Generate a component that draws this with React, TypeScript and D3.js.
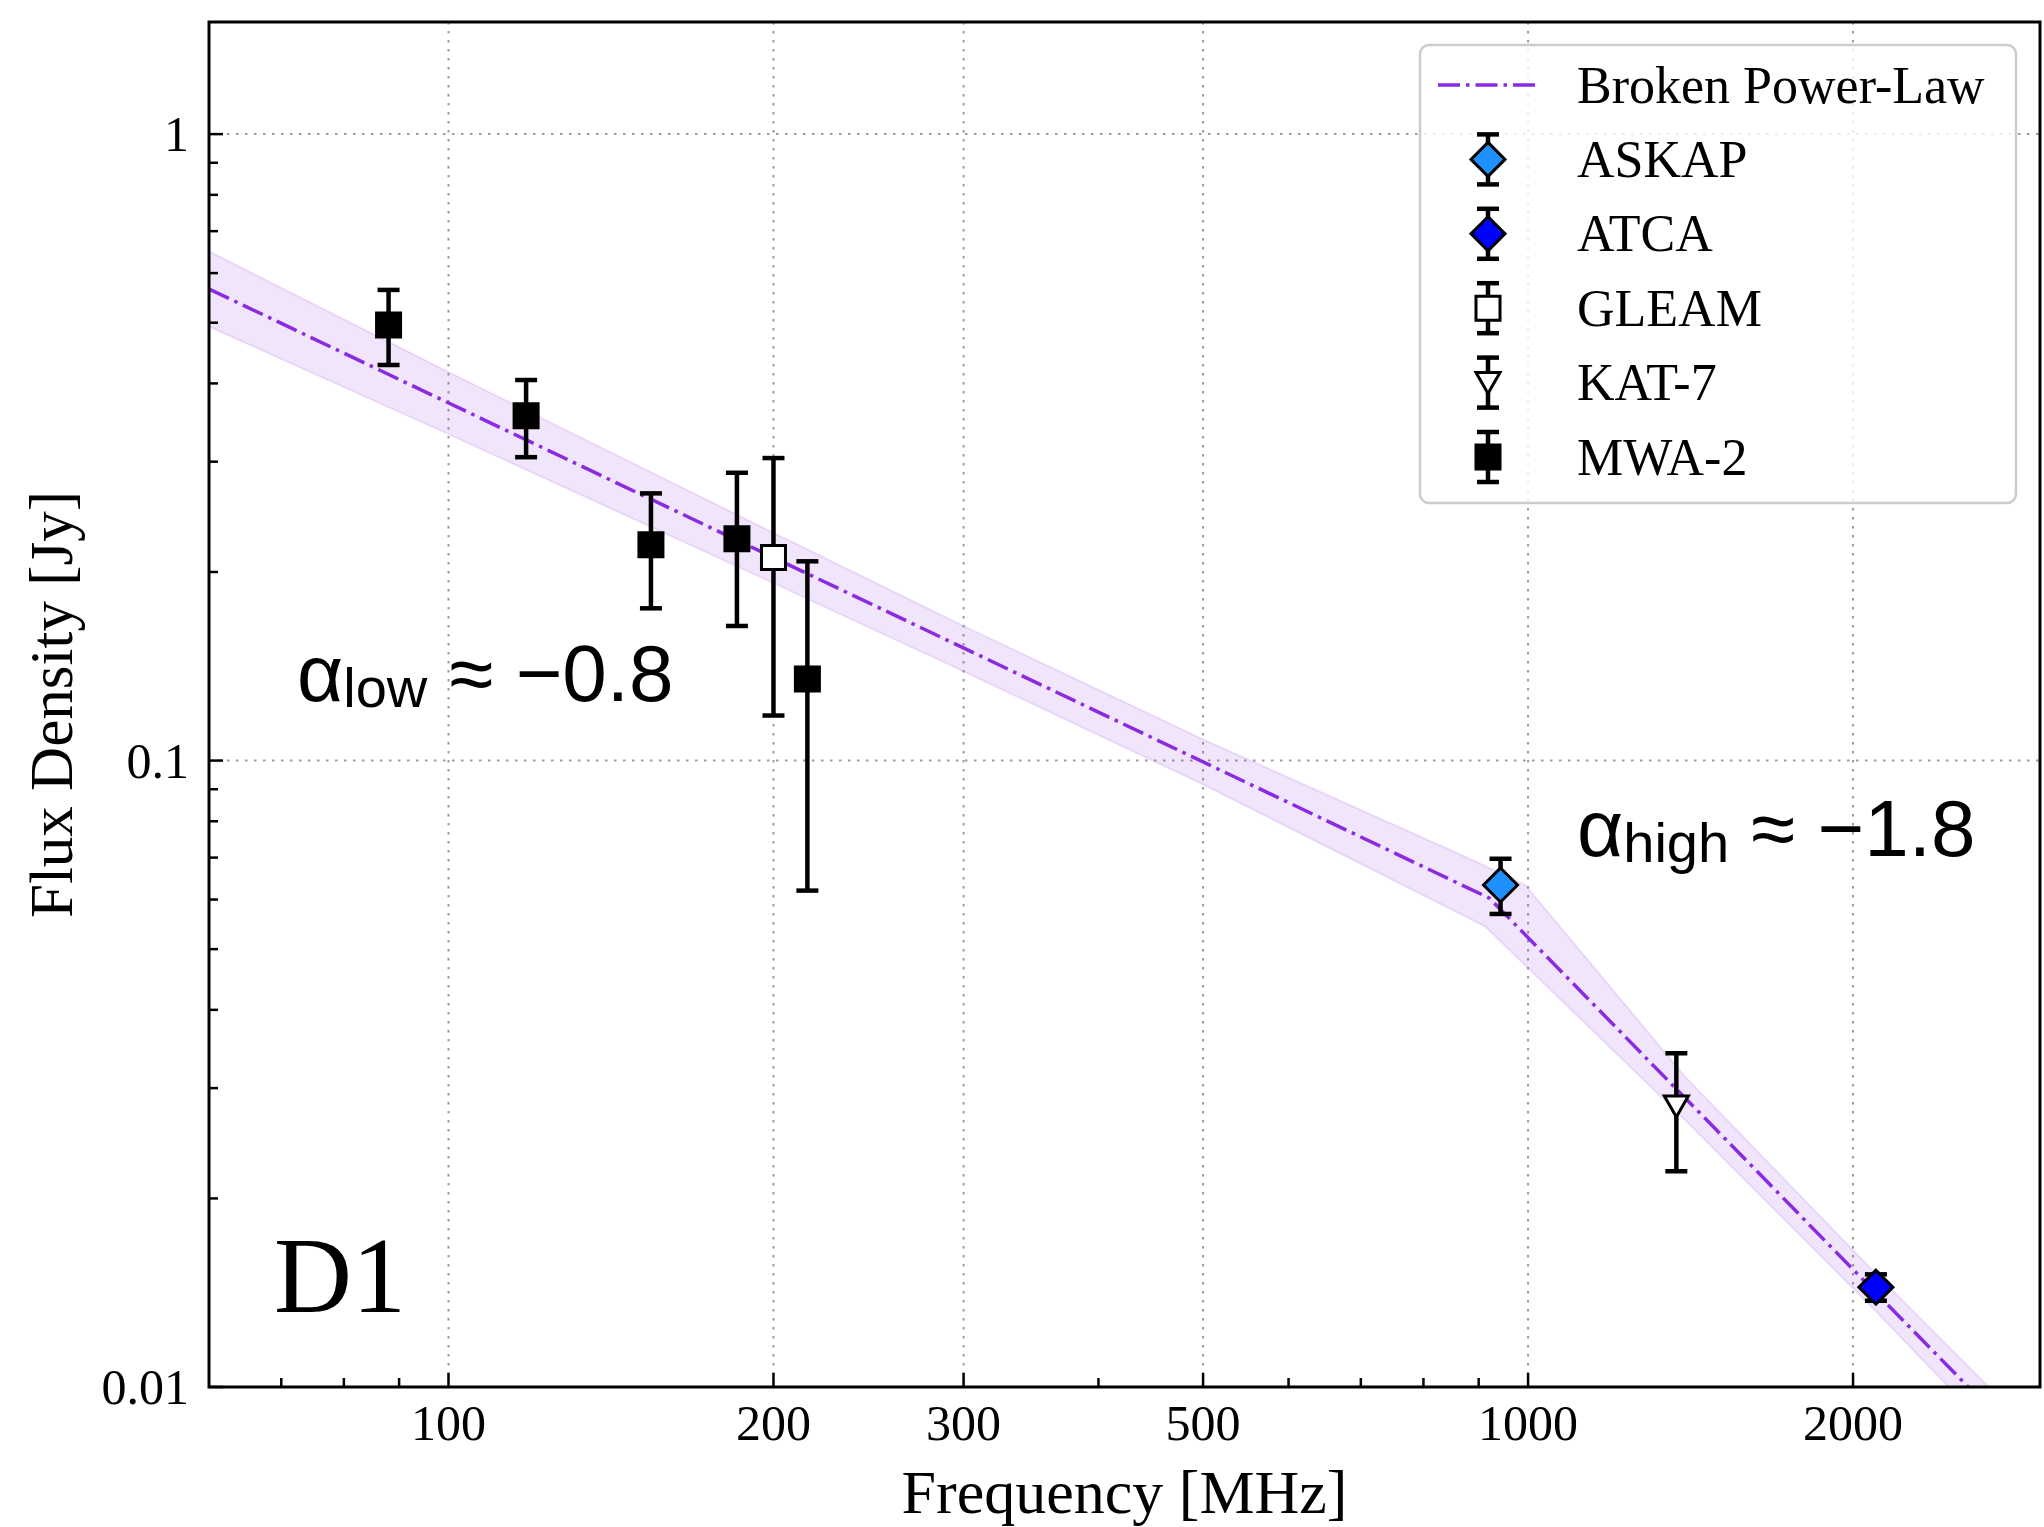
import React from 'react';
import * as d3 from 'd3';

// ---------- data ----------
const MWA_FREQ = [88, 118, 154, 185, 215];
const MWA_FLUX = [0.496, 0.355, 0.221, 0.226, 0.135];
const MWA_ERR = [0.068, 0.05, 0.046, 0.062, 0.073];

const GLEAM_FREQ = [200];
const GLEAM_FLUX = [0.211];
const GLEAM_ERR = [0.093];

const ASKAP_FREQ = [943];
const ASKAP_FLUX = [0.0633];
const ASKAP_ERR = [0.0064];

const KAT7_FREQ = [1372];
const KAT7_FLUX = [0.0281];
const KAT7_ERR = [0.006];

const ATCA_FREQ = [2100];
const ATCA_FLUX = [0.01443];
const ATCA_ERR = [0.0007];

// broken power-law model line (vertices in log-log space)
const BPL_FREQ = [60, 921, 3000];
const BPL_FLUX = [0.566, 0.0603, 0.00755];

// uncertainty band
const BAND_UP_FREQ = [60, 100, 200, 300, 500, 880, 994, 1400, 2100, 3000];
const BAND_UP = [0.65, 0.417, 0.231, 0.164, 0.1081, 0.0699, 0.0633, 0.0312, 0.01516, 0.00819];
const BAND_LO_FREQ = [60, 100, 200, 300, 500, 913, 1400, 2100, 3000];
const BAND_LO = [0.493, 0.332, 0.192, 0.1388, 0.0916, 0.0543, 0.0266, 0.01321, 0.00696];

// axes
const X_DOMAIN = [60, 2980];
const Y_DOMAIN = [0.01, 1.51];
const X_MAJOR = [100, 200, 300, 500, 1000, 2000];
const X_LABELS = ['100', '200', '300', '500', '1000', '2000'];
const X_MINOR = [70, 80, 90, 400, 600, 700, 800, 900];
const Y_MAJOR = [0.01, 0.1, 1];
const Y_LABELS = ['0.01', '0.1', '1'];
const Y_MINOR = [0.02, 0.03, 0.04, 0.05, 0.06, 0.07, 0.08, 0.09, 0.2, 0.3, 0.4, 0.5, 0.6, 0.7, 0.8, 0.9];

const LEGEND_LABELS = ['Broken Power-Law', 'ASKAP', 'ATCA', 'GLEAM', 'KAT-7', 'MWA-2'];

const SERIF = '"Liberation Serif", "DejaVu Serif", serif';
const SANS = '"Liberation Sans", Arial, sans-serif';
const PURPLE = '#8A2BE2';

type Marker = 'square' | 'diamond' | 'tri';

function markerPath(kind: Marker): string {
  if (kind === 'square') return 'M-12,-12H12V12H-12Z';
  if (kind === 'diamond') return 'M0,-17L17,0L0,17L-17,0Z';
  return 'M-12,-10L12,-10L0,11Z';
}

export default function App() {
  const L = 209, R = 2040, T = 22, B = 1387;
  const x = d3.scaleLog().domain(X_DOMAIN).range([L, R]);
  const y = d3.scaleLog().domain(Y_DOMAIN).range([B, T]);

  const lineGen = d3
    .line<[number, number]>()
    .x((d) => x(d[0]))
    .y((d) => y(d[1]));

  const bplPts = BPL_FREQ.map((f, i) => [f, BPL_FLUX[i]] as [number, number]);
  const upPts = BAND_UP_FREQ.map((f, i) => [f, BAND_UP[i]] as [number, number]);
  const loPts = BAND_LO_FREQ.map((f, i) => [f, BAND_LO[i]] as [number, number]).reverse();
  const bandPath = lineGen(upPts.concat(loPts)) + 'Z';

  const series = [
    { f: MWA_FREQ, s: MWA_FLUX, e: MWA_ERR, kind: 'square' as Marker, fill: '#000' },
    { f: GLEAM_FREQ, s: GLEAM_FLUX, e: GLEAM_ERR, kind: 'square' as Marker, fill: '#fff' },
    { f: ASKAP_FREQ, s: ASKAP_FLUX, e: ASKAP_ERR, kind: 'diamond' as Marker, fill: '#1E90FF' },
    { f: KAT7_FREQ, s: KAT7_FLUX, e: KAT7_ERR, kind: 'tri' as Marker, fill: '#fff' },
    { f: ATCA_FREQ, s: ATCA_FLUX, e: ATCA_ERR, kind: 'diamond' as Marker, fill: '#0000FF' },
  ];

  const legendItems = [
    { kind: 'diamond' as Marker, fill: '#1E90FF' },
    { kind: 'diamond' as Marker, fill: '#0000FF' },
    { kind: 'square' as Marker, fill: '#fff' },
    { kind: 'tri' as Marker, fill: '#fff' },
    { kind: 'square' as Marker, fill: '#000' },
  ];

  const legX = 1420, legY = 45, legW = 596, legH = 458;
  const rowY0 = 85, rowStep = 74.4;
  const handleX = 1488, textX = 1577;

  const capHalf = 11;

  return (
    <div style={{ position: 'absolute', left: 0, top: 0 }}>
      <svg width={2044} height={1527} style={{ display: 'block', background: '#fff' }}>
        <defs>
          <clipPath id="plotClip">
            <rect x={L} y={T} width={R - L} height={B - T} />
          </clipPath>
        </defs>
        <rect x={0} y={0} width={2044} height={1527} fill="#fff" />

        {/* grid */}
        <g stroke="#9a9a9a" strokeWidth={2} strokeDasharray="2.5 6.5">
          {X_MAJOR.map((v) => (
            <line key={'gx' + v} x1={x(v)} x2={x(v)} y1={T} y2={B} />
          ))}
          {Y_MAJOR.filter((v) => v > Y_DOMAIN[0]).map((v) => (
            <line key={'gy' + v} x1={L} x2={R} y1={y(v)} y2={y(v)} />
          ))}
        </g>

        {/* band + model */}
        <g clipPath="url(#plotClip)">
          <path d={bandPath} fill={PURPLE} fillOpacity={0.12} stroke={PURPLE} strokeOpacity={0.12} strokeWidth={2} />
          <path
            d={lineGen(bplPts) || ''}
            fill="none"
            stroke={PURPLE}
            strokeWidth={3.5}
            strokeDasharray="22 6 3.5 6"
          />
        </g>

        {/* data with error bars */}
        {series.map((sr, si) => (
          <g key={'s' + si}>
            {sr.f.map((f, i) => {
              const cx = x(f);
              const cy = y(sr.s[i]);
              const y1 = y(sr.s[i] + sr.e[i]);
              const y2 = y(sr.s[i] - sr.e[i]);
              return (
                <g key={i}>
                  <g stroke="#000" strokeWidth={4.5}>
                    <line x1={cx} x2={cx} y1={y1} y2={y2} />
                    <line x1={cx - capHalf} x2={cx + capHalf} y1={y1} y2={y1} />
                    <line x1={cx - capHalf} x2={cx + capHalf} y1={y2} y2={y2} />
                  </g>
                  <path
                    d={markerPath(sr.kind)}
                    transform={`translate(${cx},${cy})`}
                    fill={sr.fill}
                    stroke="#000"
                    strokeWidth={3}
                    strokeLinejoin="miter"
                  />
                </g>
              );
            })}
          </g>
        ))}

        {/* annotations */}
        <text x={297} y={701} fontFamily={SANS} fontSize={80} fill="#000">
          α<tspan fontSize={56} dy={6}>low</tspan>
          <tspan dy={-6}> ≈ −0.8</tspan>
        </text>
        <text x={1577} y={856} fontFamily={SANS} fontSize={80} fill="#000">
          α<tspan fontSize={56} dy={6}>high</tspan>
          <tspan dy={-6}> ≈ −1.8</tspan>
        </text>
        <text x={274} y={1312} fontFamily={SERIF} fontSize={108} fill="#000">
          D1
        </text>

        {/* legend */}
        <g>
          <rect
            x={legX}
            y={legY}
            width={legW}
            height={legH}
            rx={9}
            fill="#fff"
            fillOpacity={0.8}
            stroke="#cccccc"
            strokeWidth={2.5}
          />
          <line
            x1={1438}
            x2={1538}
            y1={rowY0}
            y2={rowY0}
            stroke={PURPLE}
            strokeWidth={3.5}
            strokeDasharray="22 6 3.5 6"
          />
          {legendItems.map((it, i) => {
            const cy = rowY0 + rowStep * (i + 1);
            return (
              <g key={'lg' + i}>
                <g stroke="#000" strokeWidth={4.5}>
                  <line x1={handleX} x2={handleX} y1={cy - 25} y2={cy + 25} />
                  <line x1={handleX - capHalf} x2={handleX + capHalf} y1={cy - 25} y2={cy - 25} />
                  <line x1={handleX - capHalf} x2={handleX + capHalf} y1={cy + 25} y2={cy + 25} />
                </g>
                <path
                  d={markerPath(it.kind)}
                  transform={`translate(${handleX},${cy})`}
                  fill={it.fill}
                  stroke="#000"
                  strokeWidth={3}
                />
              </g>
            );
          })}
          {LEGEND_LABELS.map((t, i) => (
            <text
              key={'lt' + i}
              x={textX}
              y={rowY0 + rowStep * i}
              dy="0.34em"
              fontFamily={SERIF}
              fontSize={52}
              fill="#000"
            >
              {t}
            </text>
          ))}
        </g>

        {/* ticks (inward) */}
        <g stroke="#000" strokeWidth={2.5}>
          {X_MAJOR.map((v) => (
            <line key={'xt' + v} x1={x(v)} x2={x(v)} y1={B} y2={B - 14} />
          ))}
          {X_MINOR.map((v) => (
            <line key={'xm' + v} x1={x(v)} x2={x(v)} y1={B} y2={B - 9} />
          ))}
          {Y_MAJOR.map((v) => (
            <line key={'yt' + v} x1={L} x2={L + 14} y1={y(v)} y2={y(v)} />
          ))}
          {Y_MINOR.map((v) => (
            <line key={'ym' + v} x1={L} x2={L + 9} y1={y(v)} y2={y(v)} />
          ))}
        </g>

        {/* frame */}
        <rect x={L} y={T} width={R - L} height={B - T} fill="none" stroke="#000" strokeWidth={3} />

        {/* tick labels */}
        {X_MAJOR.map((v, i) => (
          <text
            key={'xl' + v}
            x={x(v)}
            y={1440}
            textAnchor="middle"
            fontFamily={SERIF}
            fontSize={50}
            fill="#000"
          >
            {X_LABELS[i]}
          </text>
        ))}
        {Y_MAJOR.map((v, i) => (
          <text
            key={'yl' + v}
            x={189}
            y={y(v)}
            dy="0.34em"
            textAnchor="end"
            fontFamily={SERIF}
            fontSize={50}
            fill="#000"
          >
            {Y_LABELS[i]}
          </text>
        ))}

        {/* axis titles */}
        <text x={(L + R) / 2} y={1513} textAnchor="middle" fontFamily={SERIF} fontSize={62} fill="#000">
          Frequency [MHz]
        </text>
        <text
          transform={`translate(72,${(T + B) / 2}) rotate(-90)`}
          textAnchor="middle"
          fontFamily={SERIF}
          fontSize={61}
          fill="#000"
        >
          Flux Density [Jy]
        </text>
      </svg>
    </div>
  );
}
